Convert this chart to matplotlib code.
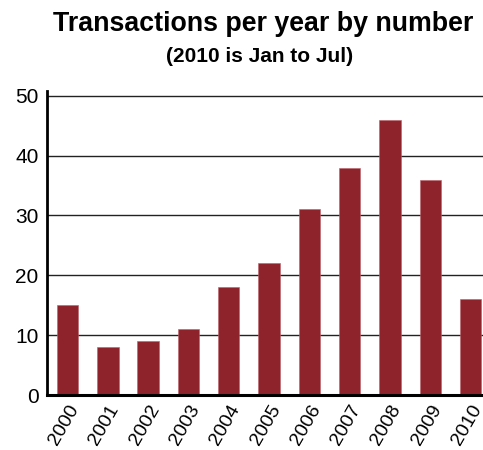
import matplotlib
matplotlib.use("Agg")
import matplotlib.pyplot as plt
import numpy as np

plt.rcParams['font.family'] = ['Liberation Sans', 'DejaVu Sans']

years = ['2000', '2001', '2002', '2003', '2004', '2005',
         '2006', '2007', '2008', '2009', '2010']
transactions = [15, 8, 9, 11, 18, 22, 31, 38, 46, 36, 16]
y_ticks = [0, 10, 20, 30, 40, 50]

fig = plt.figure(figsize=(4.83, 4.5), dpi=100)
ax = fig.add_axes([0.0973, 0.1222, 0.9027, 0.6756])

x = np.arange(len(years))
ax.bar(x, transactions, width=0.53, color='#8f232b', edgecolor='#b86068',
       linewidth=0.4, zorder=3)

ax.set_xlim(-0.51, 10.31)
ax.set_ylim(0, 50.8)
ax.set_yticks(y_ticks)
ax.set_yticklabels([str(v) for v in y_ticks], fontsize=15)
ax.set_xticks(x)
ax.set_xticklabels(years, rotation=60, ha='right', va='top',
                   rotation_mode='anchor', fontsize=14)
ax.tick_params(axis='both', length=0, pad=6)
ax.tick_params(axis='x', pad=5)

ax.grid(axis='y', color='#222222', linewidth=1.0, zorder=0)
for s in ['top', 'right']:
    ax.spines[s].set_visible(False)
ax.spines['left'].set_linewidth(2)
ax.spines['bottom'].set_linewidth(2.2)
ax.spines['left'].set_zorder(4)
ax.spines['bottom'].set_zorder(4)

fig.text(0.545, 0.947, 'Transactions per year by number', ha='center',
         va='center', fontsize=19.3, fontweight='bold')
fig.text(0.538, 0.875, '(2010 is Jan to Jul)', ha='center', va='center',
         fontsize=15, fontweight='bold')

fig.savefig('out.png', dpi=100)
